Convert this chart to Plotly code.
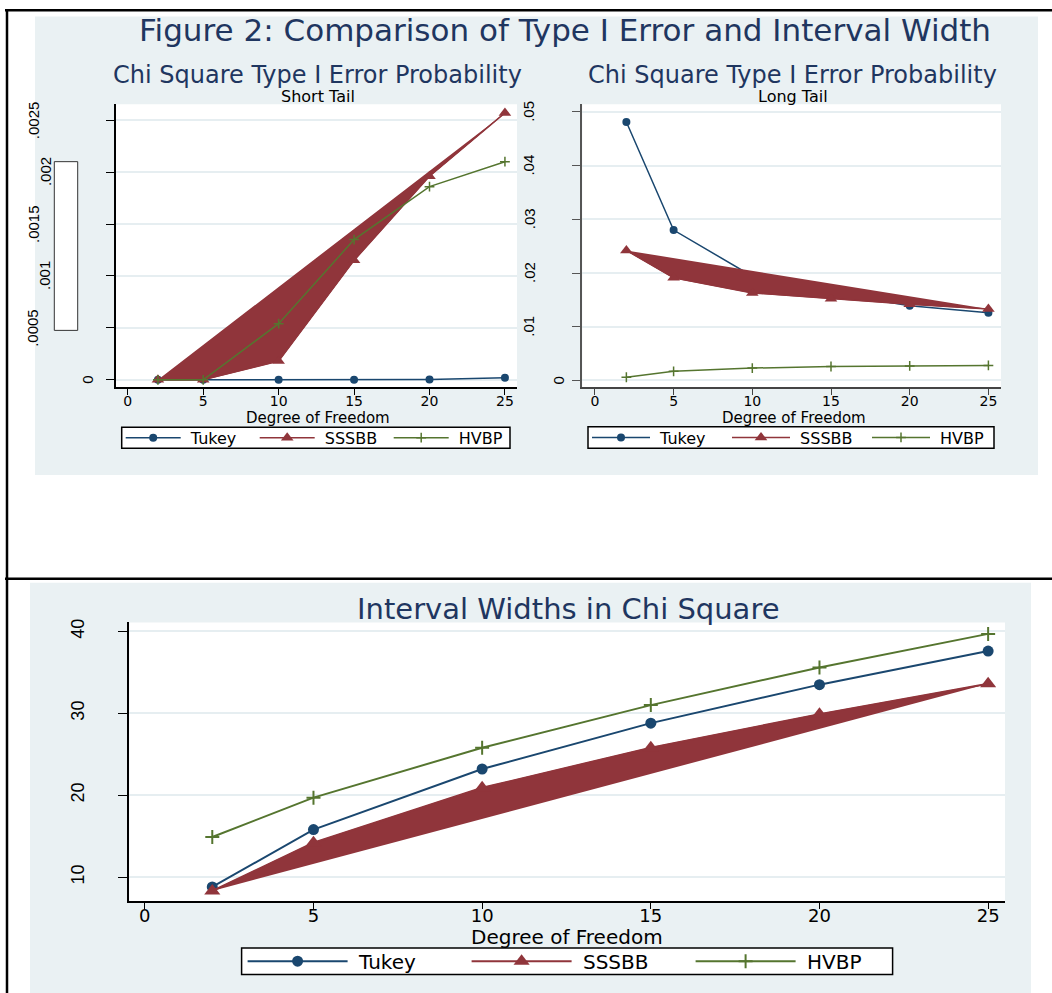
import plotly.graph_objects as go

W, H = 1052, 993

# ---- data -------------------------------------------------------------
dof = [2, 5, 10, 15, 20, 25]
series_names = ["Tukey", "SSSBB", "HVBP"]

short_tukey = [0, 0, 0, 0, 0.000004, 0.00002]
short_sssbb = [0, 0, 0.00018, 0.00115, 0.00196, 0.00257]
short_hvbp = [0, 0, 0.00054, 0.00135, 0.00186, 0.0021]

long_tukey = [0.0481, 0.0280, 0.0194, 0.0163, 0.0139, 0.0126]
long_sssbb = [0.0242, 0.0191, 0.0163, 0.0152, 0.0142, 0.0133]
long_hvbp = [0.0006, 0.0017, 0.0023, 0.0026, 0.0027, 0.0028]

width_tukey = [8.8, 15.8, 23.2, 28.8, 33.5, 37.6]
width_sssbb = [8.3, 14.2, 20.9, 25.8, 29.9, 33.6]
width_hvbp = [14.9, 19.7, 25.8, 31.0, 35.6, 39.7]

x_ticks = [0, 5, 10, 15, 20, 25]
short_ticks = [0, 0.0005, 0.001, 0.0015, 0.002, 0.0025]
short_labels = ["0", ".0005", ".001", ".0015", ".002", ".0025"]
long_ticks = [0, 0.01, 0.02, 0.03, 0.04, 0.05]
long_labels = ["0", ".01", ".02", ".03", ".04", ".05"]
width_ticks = [10, 20, 30, 40]
width_labels = ["10", "20", "30", "40"]

# ---- styling ----------------------------------------------------------
C_TUKEY = "#1a476f"
C_SSSBB = "#90353b"
C_HVBP = "#55752f"
NAVY = "#1f3660"
BG = "#eaf1f3"
GRID = "#e6eef1"
SANS = "DejaVu Sans"
NUM = "Liberation Sans"


def px(x):
    return x / W


def py(y):
    return 1 - y / H


def legend_name(s):
    # small lead-in gap between the legend key and its label
    return "\u00a0" + s


fig = go.Figure()


def add_panel(xa, ya, legend, tukey, sssbb, hvbp, big=False):
    lw = 2 if big else 1.5
    msz = 11 if big else 8
    n_tukey, n_sssbb, n_hvbp = series_names
    fig.add_trace(go.Scatter(
        x=dof, y=tukey, name=legend_name(n_tukey), mode="lines+markers",
        line=dict(color=C_TUKEY, width=lw),
        marker=dict(symbol="circle", size=msz, color=C_TUKEY),
        xaxis=xa, yaxis=ya, legend=legend))
    # SSSBB outline filled back to its first point
    fig.add_trace(go.Scatter(
        x=dof, y=sssbb, mode="lines", fill="toself", fillcolor=C_SSSBB,
        line=dict(color=C_SSSBB, width=1), showlegend=False,
        hoverinfo="skip", xaxis=xa, yaxis=ya))
    fig.add_trace(go.Scatter(
        x=dof, y=sssbb, name=legend_name(n_sssbb), mode="lines+markers",
        line=dict(color=C_SSSBB, width=lw),
        marker=dict(symbol="triangle-up", size=msz + 3, color=C_SSSBB),
        xaxis=xa, yaxis=ya, legend=legend))
    fig.add_trace(go.Scatter(
        x=dof, y=hvbp, name=legend_name(n_hvbp), mode="lines+markers",
        line=dict(color=C_HVBP, width=lw),
        marker=dict(symbol="cross-thin", size=msz - 1,
                    line=dict(color=C_HVBP, width=lw)),
        xaxis=xa, yaxis=ya, legend=legend))


add_panel("x", "y", "legend", short_tukey, short_sssbb, short_hvbp)
add_panel("x2", "y2", "legend2", long_tukey, long_sssbb, long_hvbp)
add_panel("x3", "y3", "legend3", width_tukey, width_sssbb, width_hvbp, big=True)

# ---- plot-area geometry (pixels) --------------------------------------
P1 = (115.7, 517.0, 100.7, 385.0)
P2 = (582.3, 1001.0, 100.7, 385.0)
P3 = (129.3, 1005.0, 621.0, 900.7)


def xdom(p):
    return [px(p[0]), px(p[1])]


def ydom(p):
    return [py(p[3]), py(p[2])]


def xaxis_cfg(p, rng, size, anchor, linecolor="black", standoff=-6):
    return dict(domain=xdom(p), range=rng, tickvals=x_ticks, anchor=anchor,
                ticks="outside", ticklen=6, tickwidth=1.2, tickcolor=linecolor,
                showline=True, linecolor=linecolor, linewidth=1.5,
                showgrid=False, zeroline=False, ticklabelstandoff=standoff,
                tickfont=dict(family=SANS, size=size, color="black"))


def yaxis_cfg(p, rng, ticks, anchor, linecolor="black", ticklen=8):
    return dict(domain=ydom(p), range=rng, tickvals=ticks, anchor=anchor,
                ticks="outside", ticklen=ticklen, tickwidth=1.2,
                tickcolor=linecolor, showline=True, linecolor=linecolor,
                linewidth=1.5, showgrid=True, gridcolor=GRID, gridwidth=1.5,
                zeroline=False, showticklabels=False)


layout = dict(
    width=W, height=H, margin=dict(l=0, r=0, t=0, b=0),
    paper_bgcolor="white", plot_bgcolor="rgba(0,0,0,0)",
    xaxis=xaxis_cfg(P1, [-0.8, 25.8], 14, "y"),
    yaxis=yaxis_cfg(P1, [-0.0000737, 0.002653], short_ticks, "x"),
    xaxis2=xaxis_cfg(P2, [-0.8, 25.8], 14, "y2", "#444"),
    yaxis2=yaxis_cfg(P2, [-0.0013, 0.0514], long_ticks, "x2", "#555", 9),
    xaxis3=xaxis_cfg(P3, [-0.46, 25.5], 18, "y3", standoff=-8),
    yaxis3=dict(yaxis_cfg(P3, [7.07, 41.09], width_ticks, "x3", "black", 10),
                showticklabels=True, ticktext=width_labels, tickangle=-90,
                ticklabelstandoff=26,
                tickfont=dict(family=NUM, size=18, color="black")),
)

# legend boxes are drawn as shapes; the legends themselves carry no frame
LEG1 = (121.7, 510.0, 425.0, 446.0)
LEG2 = (588.0, 994.0, 424.5, 446.0)
LEG3 = (241.6, 892.6, 947.7, 974.3)

legend_common = dict(orientation="h", xanchor="left", yanchor="middle",
                     bgcolor="rgba(0,0,0,0)", borderwidth=0,
                     entrywidthmode="pixels", xref="paper", yref="paper")
layout["legend"] = dict(legend_common, x=px(LEG1[0] - 1),
                        y=py((LEG1[2] + LEG1[3]) / 2),
                        itemwidth=55, entrywidth=64,
                        font=dict(family=SANS, size=16, color="black"))
layout["legend2"] = dict(legend_common, x=px(LEG2[0] - 1),
                         y=py((LEG2[2] + LEG2[3]) / 2),
                         itemwidth=58, entrywidth=67,
                         font=dict(family=SANS, size=16, color="black"))
layout["legend3"] = dict(legend_common, x=px(LEG3[0] + 1),
                         y=py((LEG3[2] + LEG3[3]) / 2),
                         itemwidth=100, entrywidth=109,
                         font=dict(family=SANS, size=20, color="black"))

fig.update_layout(**layout)

# ---- backgrounds, frame -----------------------------------------------
shapes = []


def rect(x0, x1, y0, y1, fill, line=None, layer="below"):
    shapes.append(dict(type="rect", xref="paper", yref="paper",
                       x0=px(x0), x1=px(x1), y0=py(y1), y1=py(y0),
                       fillcolor=fill, layer=layer,
                       line=line or dict(width=0)))


def hline(x0, x1, y, w=2.5):
    shapes.append(dict(type="line", xref="paper", yref="paper",
                       x0=px(x0), x1=px(x1), y0=py(y), y1=py(y),
                       line=dict(color="black", width=w), layer="above"))


def vline(x, y0, y1, w=2.5):
    shapes.append(dict(type="line", xref="paper", yref="paper",
                       x0=px(x), x1=px(x), y0=py(y0), y1=py(y1),
                       line=dict(color="black", width=w), layer="above"))


rect(35, 1038, 12.5, 473, BG)
rect(30, 1031, 581, 993, BG)
for p in (P1, P2, P3):
    rect(p[0], p[1], p[2], p[3], "white")
rect(54.3, 77.7, 158.3, 327.7, "white", dict(color="#333", width=1))
for b in (LEG1, LEG2, LEG3):
    rect(b[0], b[1], b[2], b[3], "white", dict(color="black", width=1.5))

hline(5, 1052, 6.2)
hline(5, 1052, 577)
vline(7, 5, 993)

fig.update_layout(shapes=shapes)

# ---- titles and labels ------------------------------------------------
ann = []


def text(x, y, s, size, color="black", family=SANS, angle=0, yref="paper",
         yval=None):
    ann.append(dict(x=px(x), xref="paper",
                    y=py(y) if yval is None else yval, yref=yref,
                    text=s, showarrow=False, xanchor="center",
                    yanchor="middle", textangle=angle,
                    font=dict(family=family, size=size, color=color)))


text(564.5, 26, "Figure 2: Comparison of Type I Error and Interval Width", 31, NAVY)
text(317, 71, "Chi Square Type I Error Probability", 24, NAVY)
text(318, 93, "Short Tail", 16)
text(792, 71, "Chi Square Type I Error Probability", 24, NAVY)
text(793, 93, "Long Tail", 16)
text(568, 607, "Interval Widths in Chi Square", 29, NAVY)

text(318, 416, "Degree of Freedom", 15)
text(794, 416, "Degree of Freedom", 15)
text(567, 937, "Degree of Freedom", 20)

# rotated y tick labels of the two upper panels
short_label_x = [88, 33, 45, 33, 45, 33]
for v, s, cx in zip(short_ticks, short_labels, short_label_x):
    text(cx, 0, s, 15, family=NUM, angle=-90, yref="y", yval=v)
long_label_x = [558, 529, 529, 529, 529, 529]
for v, s, cx in zip(long_ticks, long_labels, long_label_x):
    text(cx, 0, s, 15, family=NUM, angle=-90, yref="y2", yval=v)

fig.update_layout(annotations=ann)

fig.write_html("out.html")
